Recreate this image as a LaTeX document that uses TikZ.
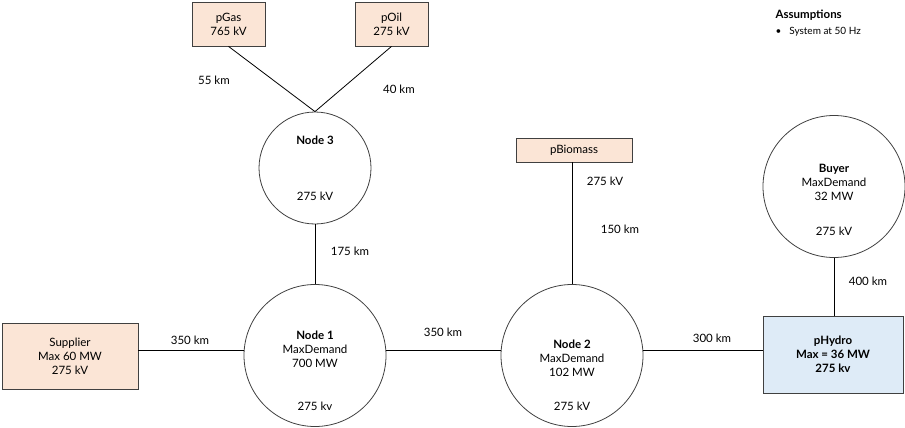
\documentclass[tikz,border=0pt]{standalone}
\usepackage{fontspec}
\setmainfont{Lato}
\definecolor{peach}{HTML}{FBE5D6}
\definecolor{lblue}{HTML}{DEEBF7}
\definecolor{edge}{HTML}{404040}
\begin{document}
\begin{tikzpicture}[x=1pt,y=-1pt,
  every node/.style={font=\fontsize{11.5}{14}\selectfont, align=center},
  box/.style={draw=edge, line width=0.8pt, fill=peach, inner sep=0pt},
  bus/.style={draw=edge, line width=0.8pt, circle, inner sep=0pt},
  ln/.style={draw=black, line width=0.8pt}]
\useasboundingbox (0,0) rectangle (905,428);
\node[box, minimum width=73, minimum height=44] (gas) at (228.5,24) {pGas\\765 kV};
\node[box, minimum width=73, minimum height=44] (oil) at (391.5,24) {pOil\\275 kV};
\node[bus, minimum size=112] (n3) at (315,168) {};
\node[font=\fontsize{11.5}{14}\selectfont\bfseries] (n3t) at (315,140) {Node 3};
\node (n3v) at (315,196) {275 kV};
\node[bus, minimum size=142] (n1) at (315,355.5) {};
\node (n1t) at (315,349) {\textbf{Node 1}\\MaxDemand\\700 MW};
\node (n1v) at (315,406) {275 kv};
\node[bus, minimum size=142] (n2) at (572,355.5) {};
\node (n2t) at (572,358) {\textbf{Node 2}\\MaxDemand\\102 MW};
\node (n2v) at (572,406) {275 kV};
\node[bus, minimum size=142] (buy) at (834,186.5) {};
\node (buyt) at (834,182) {\textbf{Buyer}\\MaxDemand\\32 MW};
\node (buyv) at (834,231) {275 kV};
\node[box, minimum width=136, minimum height=66] (sup) at (70,356) {Supplier\\Max 60 MW\\275 kV};
\node[box, fill=lblue, minimum width=140, minimum height=77, font=\fontsize{11.5}{14}\selectfont\bfseries] (hyd) at (833,354.5) {pHydro\\Max = 36 MW\\275 kv};
\node[box, minimum width=116, minimum height=24] (bio) at (574,150) {pBiomass};
\coordinate (j) at (n3.north);
\draw[ln] (gas.south) -- (j);
\draw[ln] (oil.south) -- (j);
\draw[ln] (n3.south) -- (n1.north);
\draw[ln] (sup.east |- 0,350) coordinate (s1) -- (s1 -| n1.west);
\draw[ln] (n1.east |- 0,350) coordinate (s2) -- (s2 -| n2.west);
\draw[ln] (n2.east |- 0,350) coordinate (s3) -- (s3 -| hyd.west);
\draw[ln] (bio.south -| n2.north) -- (n2.north);
\draw[ln] (buy.south) -- (buy.south |- hyd.north);
\node (l1) at (214,80) {55 km};
\node (l2) at (399,89) {40 km};
\node (l3) at (350,251) {175 km};
\node (l4) at (190,340) {350 km};
\node (l5) at (443,332) {350 km};
\node (l6) at (712,338) {300 km};
\node (l7) at (868,281) {400 km};
\node (l8) at (605,181) {275 kV};
\node (l9) at (620,229) {150 km};
\node[anchor=west, font=\fontsize{11.5}{14}\selectfont\bfseries] (as) at (772,15) {Assumptions};
\node[anchor=west, font=\fontsize{10}{12}\selectfont] (as2) at (772,32) {•\hspace{8pt}System at 50 Hz};
\end{tikzpicture}
\end{document}
